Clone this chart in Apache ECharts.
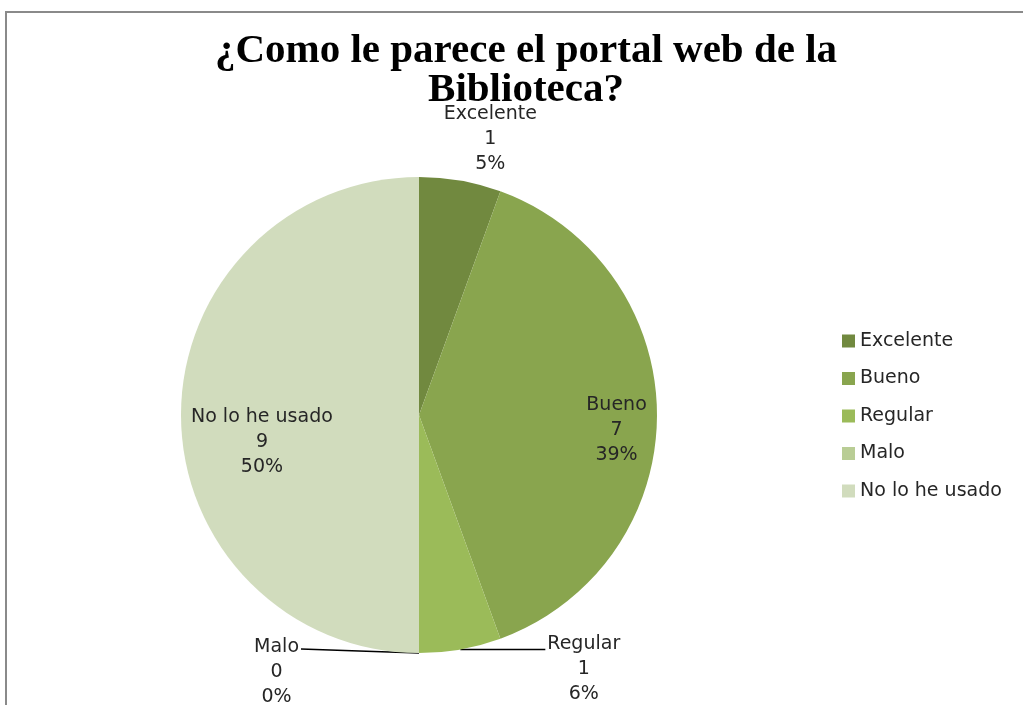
<!DOCTYPE html>
<html>
<head>
<meta charset="utf-8">
<title>Portal web de la Biblioteca</title>
<script src="https://cdn.jsdelivr.net/npm/echarts@6/dist/echarts.min.js"></script>
<style>
  html,body{margin:0;padding:0;background:#fff;}
  #main{width:1023px;height:705px;}
</style>
</head>
<body>
<div id="main"></div>
<script>
'use strict';
// datos de la encuesta
var categories = ['Excelente', 'Bueno', 'Regular', 'Malo', 'No lo he usado'];
var counts = [1, 7, 1, 0, 9];
var percentLabels = ['5%', '39%', '6%', '0%', '50%'];
var colors = ['#71893f', '#89a54e', '#9bbb59', '#b9cd95', '#d1dcbd'];

var CX = 419, CY = 415, R = 238;
var total = counts.reduce(function (a, b) { return a + b; }, 0);

// angulo medio de cada porcion (empieza arriba, sentido horario)
function midAngle(i) {
  var before = 0;
  for (var j = 0; j < i; j++) { before += counts[j]; }
  var deg = 90 - 360 * (before + counts[i] / 2) / total;
  return deg * Math.PI / 180;
}
function edgePoint(i) {
  var a = midAngle(i);
  return [CX + R * Math.cos(a), CY - R * Math.sin(a)];
}

function placeLabel(p) {
  var i = p.dataIndex;
  var w = p.labelRect.width;
  var a = midAngle(i);
  var e = edgePoint(i);
  if (i === 0) {
    return {x: e[0] + 30, y: e[1] - 4, align: 'center', verticalAlign: 'bottom'};
  } else if (i === 1 || i === 4) {
    var f = i === 1 ? 0.83 : 0.66;
    var dy = i === 1 ? 15 : 27;
    return {
      x: CX + f * R * Math.cos(a), y: CY - f * R * Math.sin(a) + dy,
      align: 'center', verticalAlign: 'middle'
    };
  } else if (i === 2) {
    var end = [e[0] + 85, e[1]];
    return {
      x: end[0] + 2 + w / 2, y: end[1] - 18, align: 'center', verticalAlign: 'top',
      labelLinePoints: [e, [e[0] + 40, e[1]], end]
    };
  } else {
    var end2 = [e[0] - 118, e[1] - 4];
    return {
      x: end2[0] - 2 - w / 2, y: end2[1] - 14, align: 'center', verticalAlign: 'top',
      labelLinePoints: [e, [e[0] - 60, e[1] - 2], end2]
    };
  }
}

var pieData = categories.map(function (name, i) {
  var item = {name: name, value: counts[i], itemStyle: {color: colors[i]}};
  if (i === 0 || i === 1 || i === 4) {
    item.labelLine = {show: false};
  }
  return item;
});

var myChart = echarts.init(document.getElementById('main'));
var option = {
  animation: false,
  backgroundColor: '#ffffff',
  graphic: [{
    type: 'rect',
    silent: true,
    shape: {x: 6, y: 12, width: 1040, height: 720},
    style: {fill: 'none', stroke: '#8a8a8a', lineWidth: 2}
  }],
  title: {
    text: '¿Como le parece el portal web de la\nBiblioteca?',
    left: 521,
    top: 27,
    textAlign: 'center',
    textStyle: {
      fontFamily: '"Liberation Serif", "Times New Roman", serif',
      fontWeight: 'bold',
      fontSize: 41,
      lineHeight: 39,
      color: '#000'
    }
  },
  legend: {
    orient: 'vertical',
    left: 837,
    top: 326,
    icon: 'rect',
    itemWidth: 13,
    itemHeight: 13,
    itemGap: 17.5,
    data: categories,
    textStyle: {
      fontFamily: '"DejaVu Sans", sans-serif',
      fontSize: 19,
      lineHeight: 20,
      color: '#262626'
    }
  },
  series: [{
    type: 'pie',
    center: [CX, CY],
    radius: R,
    startAngle: 90,
    clockwise: true,
    avoidLabelOverlap: false,
    minShowLabelAngle: 0,
    itemStyle: {borderWidth: 0},
    label: {
      show: true,
      position: 'outside',
      fontFamily: '"DejaVu Sans", sans-serif',
      fontSize: 19,
      lineHeight: 25,
      color: '#262626',
      formatter: function (p) {
        return p.name + '\n' + p.value + '\n' + percentLabels[p.dataIndex];
      }
    },
    labelLine: {show: true, length: 10, length2: 60, lineStyle: {color: '#000', width: 1.5}},
    labelLayout: placeLabel,
    emphasis: {disabled: true},
    data: pieData
  }]
};
myChart.setOption(option);
</script>
</body>
</html>
